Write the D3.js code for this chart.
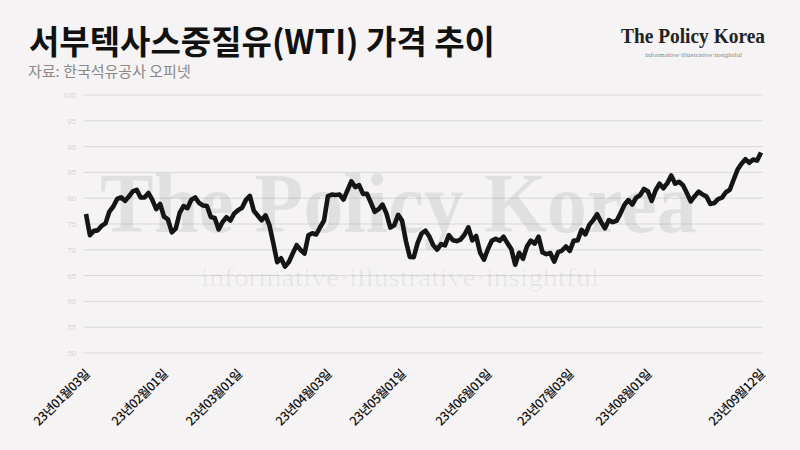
<!DOCTYPE html>
<html><head><meta charset="utf-8">
<script src="https://cdn.jsdelivr.net/npm/d3@7"></script>
<style>
html,body{margin:0;padding:0;background:#f5f3f3;}
svg{display:block;}
</style></head>
<body>
<svg id="chart" width="800" height="450"></svg>
<script>
const titleText = "서부텍사스중질유(WTI) 가격 추이";
const sourceText = "자료: 한국석유공사 오피넷";

const dates = [
"2023-01-03","2023-01-04","2023-01-05","2023-01-06","2023-01-09","2023-01-10","2023-01-11","2023-01-12","2023-01-13","2023-01-17",
"2023-01-18","2023-01-19","2023-01-20","2023-01-23","2023-01-24","2023-01-25","2023-01-26","2023-01-27","2023-01-30","2023-01-31",
"2023-02-01","2023-02-02","2023-02-03","2023-02-06","2023-02-07","2023-02-08","2023-02-09","2023-02-10","2023-02-13","2023-02-14",
"2023-02-15","2023-02-16","2023-02-17","2023-02-21","2023-02-22","2023-02-23","2023-02-24","2023-02-27","2023-02-28",
"2023-03-01","2023-03-02","2023-03-03","2023-03-06","2023-03-07","2023-03-08","2023-03-09","2023-03-10","2023-03-13","2023-03-14",
"2023-03-15","2023-03-16","2023-03-17","2023-03-20","2023-03-21","2023-03-22","2023-03-23","2023-03-24","2023-03-27","2023-03-28",
"2023-03-29","2023-03-30","2023-03-31",
"2023-04-03","2023-04-04","2023-04-05","2023-04-06","2023-04-10","2023-04-11","2023-04-12","2023-04-13","2023-04-14","2023-04-17",
"2023-04-18","2023-04-19","2023-04-20","2023-04-21","2023-04-24","2023-04-25","2023-04-26","2023-04-27","2023-04-28",
"2023-05-01","2023-05-02","2023-05-03","2023-05-04","2023-05-05","2023-05-08","2023-05-09","2023-05-10","2023-05-11","2023-05-12",
"2023-05-15","2023-05-16","2023-05-17","2023-05-18","2023-05-19","2023-05-22","2023-05-23","2023-05-24","2023-05-25","2023-05-26",
"2023-05-30","2023-05-31",
"2023-06-01","2023-06-02","2023-06-05","2023-06-06","2023-06-07","2023-06-08","2023-06-09","2023-06-12","2023-06-13","2023-06-14",
"2023-06-15","2023-06-16","2023-06-20","2023-06-21","2023-06-22","2023-06-23","2023-06-26","2023-06-27","2023-06-28","2023-06-29",
"2023-06-30",
"2023-07-03","2023-07-05","2023-07-06","2023-07-07","2023-07-10","2023-07-11","2023-07-12","2023-07-13","2023-07-14","2023-07-17",
"2023-07-18","2023-07-19","2023-07-20","2023-07-21","2023-07-24","2023-07-25","2023-07-26","2023-07-27","2023-07-28","2023-07-31",
"2023-08-01","2023-08-02","2023-08-03","2023-08-04","2023-08-07","2023-08-08","2023-08-09","2023-08-10","2023-08-11","2023-08-14",
"2023-08-15","2023-08-16","2023-08-17","2023-08-18","2023-08-21","2023-08-22","2023-08-23","2023-08-24","2023-08-25","2023-08-28",
"2023-08-29","2023-08-30","2023-08-31",
"2023-09-01","2023-09-05","2023-09-06","2023-09-07","2023-09-08","2023-09-11","2023-09-12"
];

const prices = [
76.93,72.84,73.67,73.77,74.63,75.12,77.41,78.39,79.86,80.18,
79.48,80.33,81.31,81.62,80.13,80.15,81.01,79.68,77.90,78.87,
76.41,75.88,73.39,74.11,77.14,78.47,78.06,79.72,80.14,79.06,
78.59,78.49,76.34,76.16,73.95,75.39,76.32,75.68,77.05,
77.69,78.16,79.68,80.46,77.58,76.66,75.72,76.68,74.80,71.33,
67.61,68.35,66.74,67.64,69.33,70.90,69.96,69.26,72.81,73.20,
72.97,74.37,75.67,
80.42,80.71,80.61,80.70,79.74,81.53,83.26,82.16,82.52,80.83,
80.86,79.16,77.37,77.87,78.76,77.07,74.30,74.76,76.78,
75.66,71.66,68.60,68.56,71.34,73.16,73.71,72.56,70.87,70.04,
71.11,70.86,72.83,71.86,71.69,71.99,72.91,74.34,71.83,72.67,
69.46,68.09,
70.10,71.74,72.15,71.74,72.53,71.29,70.17,67.12,69.42,68.27,
70.62,71.78,71.19,72.53,69.51,69.16,69.37,67.70,69.56,69.86,
70.64,
69.79,71.79,71.80,73.86,72.99,74.83,75.75,76.89,75.42,74.15,
75.75,75.35,75.63,77.07,78.74,79.63,78.78,80.09,80.58,81.80,
81.37,79.49,81.55,82.82,81.94,82.92,84.40,82.82,83.19,82.51,
80.99,79.38,80.39,81.25,80.72,80.35,78.89,79.05,79.83,80.10,
81.16,81.63,83.63,
85.55,86.69,87.54,86.87,87.51,87.29,88.84
];

const tickDates = ["2023-01-03","2023-02-01","2023-03-01","2023-04-03","2023-05-01","2023-06-01","2023-07-03","2023-08-01","2023-09-12"];
const tickLabels = ["23년01월03일","23년02월01일","23년03월01일","23년04월03일","23년05월01일","23년06월01일","23년07월03일","23년08월01일","23년09월12일"];
const yTicks = [50,55,60,65,70,75,80,85,90,95,100];

const svg = d3.select("#chart");
const data = dates.map((d,i)=>({date:d, value:prices[i]}));

const x = d3.scalePoint().domain(dates).range([86, 761]);
const y = d3.scaleLinear().domain([50,100]).range([353, 95]);

svg.append("rect").attr("width",800).attr("height",450).attr("fill","#f5f3f3");

const gridG = svg.append("g");
gridG.selectAll("line").data(yTicks).join("line")
  .attr("x1",84).attr("x2",763)
  .attr("y1",d=>y(d)).attr("y2",d=>y(d))
  .attr("stroke","#d9d7d7").attr("stroke-width",1);

const yAxis = d3.axisLeft(y).tickValues(yTicks).tickSize(0).tickPadding(8);
const yg = svg.append("g").attr("transform","translate(84,0)").call(yAxis);
yg.select(".domain").remove();
yg.selectAll("text").attr("fill","#c9c7c7").attr("font-size",8)
  .attr("font-family","Roboto, 'Noto Sans', sans-serif").attr("font-weight",300);

// watermark
svg.append("text").attr("x",100).attr("y",232)
  .attr("textLength",597).attr("lengthAdjust","spacingAndGlyphs")
  .attr("font-family","'Liberation Serif', 'DejaVu Serif', serif").attr("font-weight","bold")
  .attr("font-size",84).attr("fill","#000").attr("fill-opacity",0.08)
  .text("The Policy Korea");
svg.append("text").attr("x",201).attr("y",286)
  .attr("textLength",398).attr("lengthAdjust","spacingAndGlyphs")
  .attr("font-family","'Liberation Serif', 'DejaVu Serif', serif")
  .attr("font-size",25).attr("fill","#000").attr("fill-opacity",0.06)
  .text("informative·illustrative·insightful");

const line = d3.line().x(d=>x(d.date)).y(d=>y(d.value)).curve(d3.curveLinear);
svg.append("path").datum(data).attr("d",line)
  .attr("fill","none").attr("stroke","#151515").attr("stroke-width",4.6)
  .attr("stroke-linejoin","round").attr("stroke-linecap","butt");

const xAxis = d3.axisBottom(x).tickValues(tickDates)
  .tickFormat(d=>tickLabels[tickDates.indexOf(d)]).tickSize(0);
const xg = svg.append("g").attr("transform","translate(0,353)").call(xAxis);
xg.select(".domain").remove();
xg.selectAll("text")
  .attr("font-family","'Noto Sans CJK KR', sans-serif").attr("font-size",12.5)
  .attr("font-weight",500).attr("fill","#111").attr("letter-spacing","-0.5")
  .attr("text-anchor","end").attr("dy",0).attr("y",0)
  .attr("transform","translate(4,22) rotate(-45)");

svg.append("text").attr("x",29).attr("y",54)
  .attr("font-family","'Noto Sans CJK KR', sans-serif").attr("font-weight","bold")
  .attr("font-size",33).attr("fill","#111")
  .text(titleText);
svg.append("text").attr("x",28).attr("y",77)
  .attr("font-family","'Noto Sans CJK KR', sans-serif").attr("font-weight",400)
  .attr("font-size",15).attr("fill","#8a8888")
  .text(sourceText);

svg.append("text").attr("x",621).attr("y",43)
  .attr("textLength",144).attr("lengthAdjust","spacingAndGlyphs")
  .attr("font-family","'Liberation Serif', 'DejaVu Serif', serif").attr("font-weight","bold")
  .attr("font-size",20).attr("fill","#222")
  .text("The Policy Korea");
svg.append("text").attr("x",645).attr("y",57)
  .attr("textLength",97).attr("lengthAdjust","spacingAndGlyphs")
  .attr("font-family","'Liberation Serif', 'DejaVu Serif', serif")
  .attr("font-size",6).attr("fill","#888")
  .text("informative·illustrative·insightful");
</script>
</body></html>
